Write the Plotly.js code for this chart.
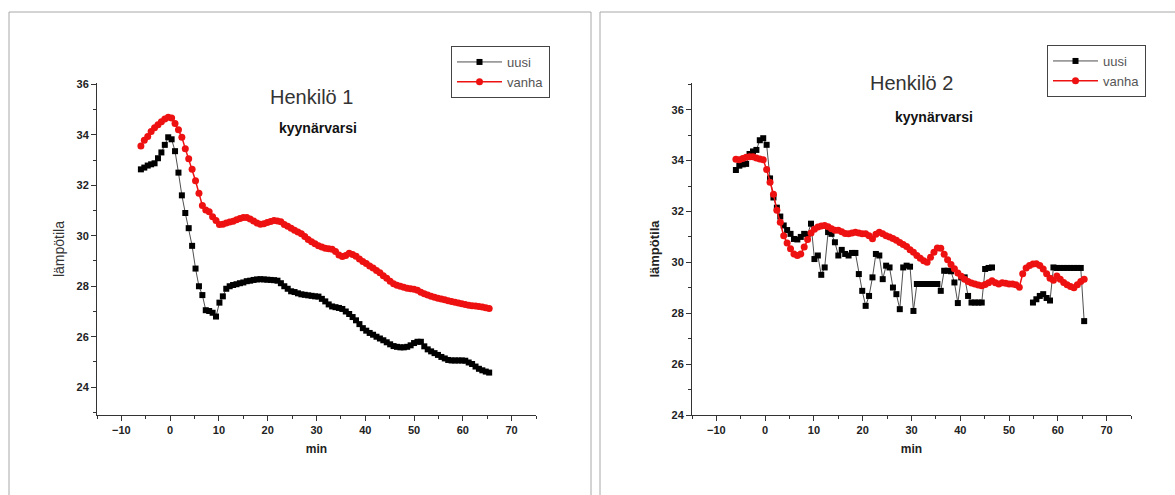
<!DOCTYPE html>
<html>
<head>
<meta charset="utf-8">
<script src="https://cdn.plot.ly/plotly-3.0.1.min.js"></script>
<style>html,body{margin:0;padding:0;background:#fff;}#chart{width:1175px;height:495px;}</style>
</head>
<body>
<div id="chart"></div>
<script>
// ---- data ----
const minutes = [-6.0,-5.3,-4.6,-3.9,-3.2,-2.5,-1.8,-1.1,-0.4,0.3,1.0,1.7,2.4,3.1,3.8,4.5,5.2,5.9,6.6,7.3,8.0,8.7,9.4,10.1,10.8,11.5,12.2,12.9,13.6,14.3,15.0,15.7,16.4,17.1,17.8,18.5,19.2,19.9,20.6,21.3,22.0,22.7,23.4,24.1,24.8,25.5,26.2,26.9,27.6,28.3,29.0,29.7,30.4,31.1,31.8,32.5,33.2,33.9,34.6,35.3,36.0,36.7,37.4,38.1,38.8,39.5,40.2,40.9,41.6,42.3,43.0,43.7,44.4,45.1,45.8,46.5,47.2,47.9,48.6,49.3,50.0,50.7,51.4,52.1,52.8,53.5,54.2,54.9,55.6,56.3,57.0,57.7,58.4,59.1,59.8,60.5,61.2,61.9,62.6,63.3,64.0,64.7,65.4];

const seriesNames = ['uusi', 'vanha'];
const panelTitles = ['Henkilö 1', 'Henkilö 2'];
const panelSubtitle = 'kyynärvarsi';
const xTitle = 'min';
const yTitle = 'lämpötila';

// Henkilö 1
const uusi1 = [32.63,32.70,32.78,32.83,32.87,33.07,33.30,33.60,33.90,33.82,33.35,32.50,31.60,30.90,30.30,29.60,28.70,28.00,27.65,27.05,27.02,26.95,26.80,27.35,27.60,27.90,28.00,28.05,28.08,28.12,28.15,28.20,28.22,28.25,28.27,28.28,28.27,28.26,28.25,28.24,28.22,28.12,28.00,27.90,27.80,27.77,27.72,27.68,27.66,27.64,27.62,27.60,27.59,27.50,27.40,27.28,27.20,27.17,27.14,27.10,27.00,26.90,26.78,26.65,26.50,26.34,26.24,26.15,26.08,26.00,25.93,25.86,25.78,25.70,25.63,25.60,25.58,25.58,25.60,25.66,25.75,25.80,25.80,25.62,25.50,25.42,25.35,25.28,25.20,25.14,25.08,25.06,25.06,25.06,25.06,25.05,24.98,24.92,24.82,24.73,24.67,24.62,24.58];
const vanha1 = [33.55,33.78,33.93,34.13,34.28,34.40,34.52,34.62,34.69,34.66,34.45,34.20,33.90,33.45,33.05,32.63,32.18,31.68,31.20,31.02,30.95,30.75,30.60,30.45,30.46,30.50,30.54,30.57,30.63,30.68,30.72,30.72,30.66,30.58,30.50,30.46,30.48,30.52,30.56,30.60,30.58,30.55,30.45,30.38,30.30,30.22,30.15,30.08,29.97,29.85,29.76,29.68,29.60,29.55,29.50,29.48,29.47,29.38,29.24,29.18,29.22,29.31,29.26,29.19,29.08,28.98,28.90,28.80,28.72,28.62,28.53,28.42,28.32,28.20,28.10,28.04,28.00,27.96,27.92,27.90,27.88,27.84,27.76,27.70,27.65,27.60,27.56,27.52,27.49,27.46,27.43,27.40,27.37,27.34,27.31,27.28,27.25,27.23,27.22,27.20,27.18,27.15,27.12];

// Henkilö 2
const uusi2 = [33.63,33.80,33.85,33.87,34.26,34.36,34.42,34.80,34.88,34.62,33.30,32.55,32.15,31.80,31.45,31.27,31.12,30.92,30.90,31.00,31.12,31.10,31.52,30.13,30.27,29.51,29.80,31.19,31.12,30.79,30.27,30.49,30.33,30.27,30.37,30.37,29.54,28.88,28.29,28.68,29.41,30.33,30.27,29.34,29.87,29.80,29.01,28.75,28.16,29.80,29.87,29.83,28.09,29.15,29.15,29.15,29.15,29.15,29.15,29.15,28.88,29.67,29.67,29.65,29.21,28.40,29.41,29.41,28.68,28.42,28.42,28.42,28.42,29.74,29.78,29.80,null,null,null,null,null,null,null,null,null,null,null,28.42,28.55,28.68,28.75,28.60,28.50,29.80,29.78,29.78,29.78,29.78,29.78,29.78,29.78,29.78,27.69];
const vanha2 = [34.05,34.03,34.08,34.13,34.15,34.15,34.10,34.06,34.03,33.65,33.15,32.68,32.05,31.58,31.05,30.76,30.53,30.33,30.27,30.33,30.60,30.90,31.15,31.30,31.39,31.43,31.45,31.40,31.32,31.26,31.26,31.20,31.13,31.12,31.15,31.18,31.15,31.12,31.12,31.05,30.93,31.10,31.18,31.12,31.05,31.00,30.94,30.87,30.78,30.70,30.62,30.50,30.40,30.27,30.16,30.06,30.00,30.20,30.40,30.56,30.55,30.32,30.10,29.92,29.75,29.58,29.45,29.34,29.25,29.19,29.15,29.11,29.08,29.13,29.20,29.28,29.20,29.15,29.20,29.18,29.15,29.15,29.12,29.02,29.55,29.78,29.88,29.94,29.95,29.88,29.74,29.55,29.38,29.30,29.46,29.34,29.21,29.12,29.05,29.00,29.12,29.25,29.34];

// ---- styling ----
const W = 1175, H = 495;
const px = x => x / W;
const py = y => 1 - y / H;
const BLACK = '#000000';
const RED = '#ee1111';
const FONT = 'Arial, "Liberation Sans", sans-serif';

function uusiTrace(y, xa, ya, lg) {
  return {
    x: minutes, y: y, xaxis: xa, yaxis: ya, name: seriesNames[0], legend: lg,
    type: 'scatter', mode: 'lines+markers', connectgaps: false,
    line: {color: '#222', width: 0.8},
    marker: {symbol: 'square', size: 6, color: BLACK}
  };
}
function vanhaTrace(y, xa, ya, lg) {
  return {
    x: minutes, y: y, xaxis: xa, yaxis: ya, name: seriesNames[1], legend: lg,
    type: 'scatter', mode: 'lines+markers',
    line: {color: RED, width: 1.5},
    marker: {symbol: 'circle', size: 7, color: RED}
  };
}

const traces = [
  uusiTrace(uusi1, 'x', 'y', 'legend'),
  vanhaTrace(vanha1, 'x', 'y', 'legend'),
  uusiTrace(uusi2, 'x2', 'y2', 'legend2'),
  vanhaTrace(vanha2, 'x2', 'y2', 'legend2')
];

function xAxis(domain, anchor) {
  return {
    domain: domain, anchor: anchor, range: [-15, 75], tick0: 0, dtick: 10,
    showline: true, linecolor: '#333', linewidth: 1, mirror: false,
    ticks: 'outside', ticklen: 5, tickwidth: 1, tickcolor: '#333',
    minor: {dtick: 5, tick0: 0, ticks: 'outside', ticklen: 3, tickcolor: '#333'},
    showgrid: false, zeroline: false, fixedrange: true,
    tickfont: {family: FONT, size: 11, color: '#222', weight: 'bold'},
    title: {text: xTitle, standoff: 9, font: {family: FONT, size: 12, color: '#222', weight: 'bold'}}
  };
}
function yAxis(domain, anchor, range, titleFont) {
  return {
    domain: domain, anchor: anchor, range: range, tick0: 0, dtick: 2,
    showline: true, linecolor: '#333', linewidth: 1, mirror: false,
    ticks: 'outside', ticklen: 5, tickwidth: 1, tickcolor: '#333',
    minor: {dtick: 1, tick0: 0, ticks: 'outside', ticklen: 3, tickcolor: '#333'},
    showgrid: false, zeroline: false, fixedrange: true,
    tickfont: {family: FONT, size: 11, color: '#222', weight: 'bold'},
    title: {text: yTitle, standoff: 8, font: titleFont}
  };
}

const ydom = [py(415), py(83)];
const legendFont = {family: FONT, size: 13, color: '#555'};
const layout = {
  width: W, height: H,
  margin: {l: 0, r: 0, t: 0, b: 0},
  paper_bgcolor: '#ffffff', plot_bgcolor: '#ffffff',
  font: {family: FONT, color: '#222'},
  xaxis: xAxis([px(97), px(536)], 'y'),
  yaxis: yAxis(ydom, 'x', [22.9, 36.05], {family: FONT, size: 14, color: '#333'}),
  xaxis2: xAxis([px(692), px(1131)], 'y2'),
  yaxis2: yAxis(ydom, 'x2', [24, 37.05], {family: FONT, size: 13, color: '#222', weight: 'bold'}),
  showlegend: true,
  legend: {
    x: px(451), y: py(46), xanchor: 'left', yanchor: 'top',
    bgcolor: '#ffffff', bordercolor: '#444', borderwidth: 1,
    font: legendFont, tracegroupgap: 0, itemwidth: 45
  },
  legend2: {
    x: px(1047), y: py(45), xanchor: 'left', yanchor: 'top',
    bgcolor: '#ffffff', bordercolor: '#444', borderwidth: 1,
    font: legendFont, tracegroupgap: 0, itemwidth: 45
  },
  annotations: [
    {text: panelTitles[0], xref: 'paper', yref: 'paper', x: px(311), y: py(97), xanchor: 'center', yanchor: 'middle', showarrow: false, font: {family: FONT, size: 20, color: '#333'}},
    {text: panelSubtitle, xref: 'paper', yref: 'paper', x: px(318), y: py(128), xanchor: 'center', yanchor: 'middle', showarrow: false, font: {family: FONT, size: 14, color: '#111', weight: 'bold'}},
    {text: panelTitles[1], xref: 'paper', yref: 'paper', x: px(911), y: py(83), xanchor: 'center', yanchor: 'middle', showarrow: false, font: {family: FONT, size: 20, color: '#333'}},
    {text: panelSubtitle, xref: 'paper', yref: 'paper', x: px(934), y: py(117), xanchor: 'center', yanchor: 'middle', showarrow: false, font: {family: FONT, size: 14, color: '#111', weight: 'bold'}}
  ],
  shapes: [
    {type: 'rect', xref: 'paper', yref: 'paper', x0: px(9), x1: px(591), y0: -0.05, y1: py(12), line: {color: '#a8a8a8', width: 1}, fillcolor: 'rgba(0,0,0,0)', layer: 'below'},
    {type: 'rect', xref: 'paper', yref: 'paper', x0: px(600), x1: 1.05, y0: -0.05, y1: py(12), line: {color: '#a8a8a8', width: 1}, fillcolor: 'rgba(0,0,0,0)', layer: 'below'}
  ]
};

Plotly.newPlot('chart', traces, layout, {displayModeBar: false, staticPlot: true});
</script>
</body>
</html>
